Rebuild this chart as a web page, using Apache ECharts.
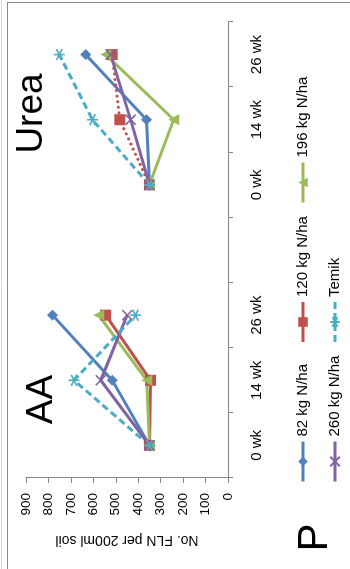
<!DOCTYPE html>
<html>
<head>
<meta charset="utf-8">
<script src="https://cdn.jsdelivr.net/npm/echarts@6/dist/echarts.min.js"></script>
<style>
  html, body { margin: 0; padding: 0; background: #fff; }
  #wrap { position: relative; width: 350px; height: 569px; overflow: hidden; background: #fff; }
  #chart { position: absolute; left: 0; top: 0; width: 569px; height: 350px;
           transform-origin: 0 0; transform: translateY(569px) rotate(-90deg); }
</style>
</head>
<body>
<div id="wrap"><div id="chart"></div></div>
<script>
// ---- data ----
const weekLabels = ['0 wk', '14 wk', '26 wk', '', '0 wk', '14 wk', '26 wk'];
const valueTicks = [0, 100, 200, 300, 400, 500, 600, 700, 800, 900];
const seriesNames = ['82 kg N/ha', '120 kg N/ha', '196 kg N/ha', '260 kg N/ha', 'Temik'];
const groupTitles = ['AA', 'Urea'];
const panelLetter = 'P';
const axisTitle = 'No. FLN per 200ml soil';

const aa82    = [350, 516, 782];
const aa120   = [350, 345, 545];
const aa196   = [350, 362, 576];
const aa260   = [350, 567, 449];
const aaTemik = [350, 686, 412];

const urea82    = [350, 363, 634];
const urea120   = [350, 482, 516];
const urea196   = [350, 242, 545];
const urea260   = [350, 434, 523];
const ureaTemik = [350, 604, 752];

// ---- styles ----
const colors = ['#4F81BD', '#C0504D', '#9BBB59', '#8064A2', '#4BACC6'];
const symbols = [
  'diamond', 'rect', 'triangle',
  'path://M0,0L10,10M10,0L0,10',
  'path://M5,0L5,10M0,2.5L10,7.5M0,7.5L10,2.5'
];
const symbolSizes = [11, 11, 11, 10, 11];
const FONT = '"Liberation Sans", Arial, sans-serif';

const aaData = [aa82, aa120, aa196, aa260, aaTemik];
const ureaData = [urea82, urea120, urea196, urea260, ureaTemik];

function pad(group, vals) {
  return group === 0 ? vals.concat([null, null, null, null]) : [null, null, null, null].concat(vals);
}
function makeSeries(i, group) {
  const c = colors[i];
  const isPath = i >= 3;
  let lineType = 'solid', cap = 'butt';
  if (i === 4) lineType = [7, 4];
  if (i === 1 && group === 1) { lineType = [0.1, 5.5]; cap = 'round'; }
  return {
    type: 'line',
    name: seriesNames[i],
    data: pad(group, group === 0 ? aaData[i] : ureaData[i]),
    symbol: symbols[i],
    symbolSize: symbolSizes[i],
    showSymbol: true,
    connectNulls: false,
    lineStyle: { color: c, width: 3, type: lineType, cap: cap },
    itemStyle: { color: isPath ? 'none' : c, borderColor: c, borderWidth: isPath ? 1.6 : 0 },
    emphasis: { disabled: true },
    animation: false
  };
}
const series = [];
for (let i = 0; i < 5; i++) series.push(makeSeries(i, 0));
for (let i = 0; i < 5; i++) series.push(makeSeries(i, 1));

const legendCommon = {
  left: 81, orient: 'horizontal',
  itemWidth: 40, itemHeight: 12, itemGap: 10,
  lineStyle: { width: 3 },
  textStyle: { color: '#000', fontSize: 15, fontFamily: FONT, width: 83, lineHeight: 16 }
};

const chart = echarts.init(document.getElementById('chart'));
chart.setOption({
  animation: false,
  color: colors,
  grid: { left: 91, right: 22, top: 26, bottom: 122 },
  xAxis: {
    type: 'category',
    data: weekLabels,
    boundaryGap: true,
    axisLine: { show: true, onZero: false, lineStyle: { color: '#868686', width: 1 } },
    axisTick: { show: true, length: 5, inside: false, lineStyle: { color: '#868686' } },
    axisLabel: { interval: 0, margin: 21, color: '#000', fontSize: 15, fontFamily: FONT },
    splitLine: { show: false }
  },
  yAxis: {
    type: 'value',
    min: valueTicks[0],
    max: valueTicks[valueTicks.length - 1],
    interval: valueTicks[1] - valueTicks[0],
    name: axisTitle,
    nameLocation: 'middle',
    nameGap: 55,
    nameRotate: 90,
    nameTextStyle: { color: '#000', fontSize: 14, fontFamily: FONT },
    axisLine: { show: true, lineStyle: { color: '#868686', width: 1 } },
    axisTick: { show: true, length: 5, inside: false, lineStyle: { color: '#868686' } },
    axisLabel: { margin: 15, color: '#000', fontSize: 13.5, fontFamily: FONT },
    splitLine: { show: false }
  },
  legend: [
    Object.assign({ data: seriesNames.slice(0, 3), top: 290 }, legendCommon),
    Object.assign({ data: seriesNames.slice(3), top: 322 }, legendCommon)
  ],
  graphic: [
    { type: 'line', silent: true, shape: { x1: 0, y1: 7.5, x2: 566, y2: 7.5 }, style: { stroke: '#8a8a8a', lineWidth: 1 } },
    { type: 'line', silent: true, shape: { x1: 566.5, y1: 7, x2: 566.5, y2: 350 }, style: { stroke: '#8a8a8a', lineWidth: 1 } },
    { type: 'line', silent: true, shape: { x1: 0, y1: 1.5, x2: 569, y2: 1.5 }, style: { stroke: '#d9d9d9', lineWidth: 1 } },
    { type: 'text', silent: true, style: { text: groupTitles[0], x: 169.5, y: 41.5, align: 'center', verticalAlign: 'middle', font: '37px ' + FONT, fill: '#000' } },
    { type: 'text', silent: true, style: { text: groupTitles[1], x: 455.5, y: 31.5, align: 'center', verticalAlign: 'middle', font: '37px ' + FONT, fill: '#000' } },
    { type: 'text', silent: true, style: { text: panelLetter, x: 31.5, y: 315, align: 'center', verticalAlign: 'middle', font: '42px "Liberation Sans Narrow", ' + FONT, fill: '#000' } }
  ],
  series: series
});
</script>
</body>
</html>
